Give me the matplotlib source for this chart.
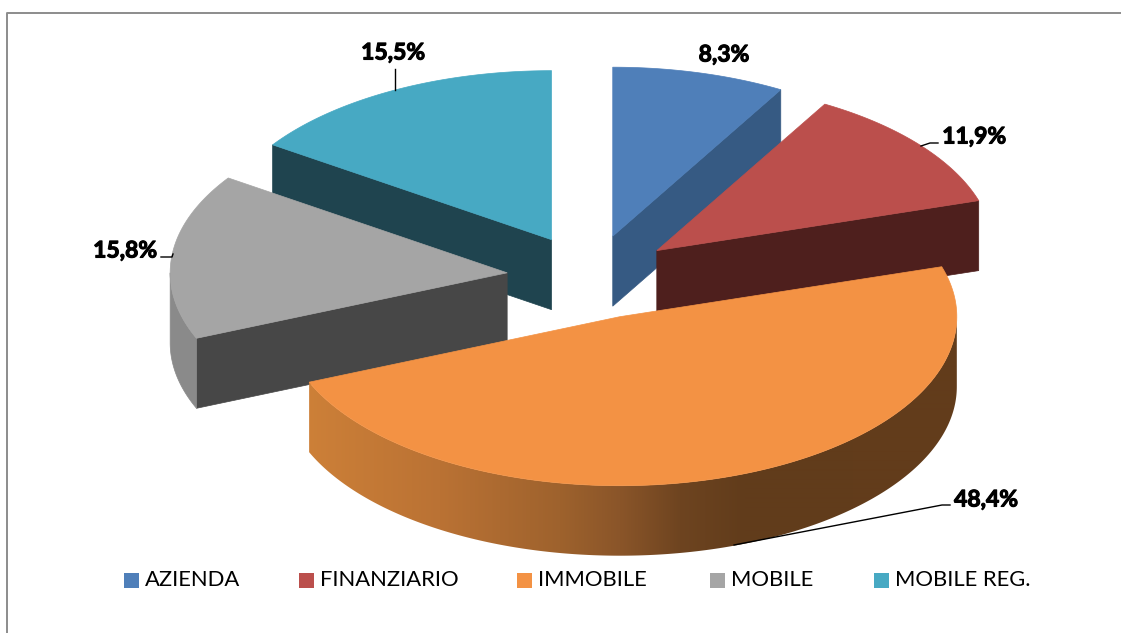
import numpy as np
import matplotlib
matplotlib.use("Agg")
import matplotlib.pyplot as plt
import matplotlib.patheffects as pe
from matplotlib.patches import Polygon, Rectangle

categories = ["AZIENDA", "FINANZIARIO", "IMMOBILE", "MOBILE", "MOBILE REG."]
values = [8.3, 11.9, 48.4, 15.8, 15.5]
top_colors = ["#4f7fb9", "#bb4f4c", "#f39244", "#a5a5a5", "#47a9c3"]
face_colors = ["#365a83", "#4e1f1d", "#633c1b", "#474747", "#1f444f"]
side_colors = ["#365a83", "#4e1f1d", "#633c1b", "#8a8a8a", "#1f444f"]

# pie geometry in pixels
cx, cy = 591, 277
a, b = 337, 169
depth = 70
explode = 0.25


def pt(c, t, r=1.0):
    return c[0] + a * r * np.sin(t), c[1] - b * r * np.cos(t)


fig = plt.figure(figsize=(11.21, 6.33), dpi=100)
ax = fig.add_axes([0, 0, 1, 1])

# outer frame, cut off by the picture on the right and bottom
ax.plot([6.5, 6.5, 1125], [640, 12.5, 12.5], color="#8c8c8c", lw=1.4)

fracs = np.array(values) / sum(values)
ends = np.cumsum(fracs) * 2 * np.pi
starts = ends - fracs * 2 * np.pi
mids = (starts + ends) / 2
centers = [pt((cx, cy), m, explode) for m in mids]

# brown shading of the big slice wall, left to right
shade_x = [307, 440, 560, 620, 680, 745, 960]
shade_rgb = np.array([[205, 128, 56], [186, 114, 52], [158, 98, 45],
                      [138, 85, 41], [110, 68, 32], [97, 60, 27], [99, 60, 27]]) / 255


def draw_slice(i, z):
    c = centers[i]
    t0, t1 = starts[i], ends[i]
    ts = np.linspace(t0, t1, 200)
    if i != 2:
        t_face = t1 if i in (0, 1) else t0
        p = pt(c, t_face)
        ax.add_patch(Polygon([c, p, (p[0], p[1] + depth), (c[0], c[1] + depth)],
                             closed=True, fc=face_colors[i], ec=face_colors[i], lw=0.5, zorder=z))
    # outer wall for the front half of the ellipse
    lo, hi = max(t0, np.pi / 2), min(t1, 3 * np.pi / 2)
    if lo < hi:
        tw = np.linspace(lo, hi, 260)
        xs, ys = pt(c, tw)
        wall = list(zip(xs, ys)) + list(zip(xs[::-1], ys[::-1] + depth))
        if i == 2:
            gx = np.arange(300, 965)
            grad = np.stack([np.interp(gx, shade_x, shade_rgb[:, k]) for k in range(3)], axis=-1)[None, :, :]
            poly = Polygon(wall, closed=True, fc="none", ec="none", zorder=z)
            ax.add_patch(poly)
            im = ax.imshow(grad, extent=(300, 965, 600, 300), aspect="auto", zorder=z,
                           interpolation="bilinear")
            im.set_clip_path(poly)
        else:
            ax.add_patch(Polygon(wall, closed=True, fc=side_colors[i], ec=side_colors[i], lw=0.5, zorder=z))
    xs, ys = pt(c, ts)
    verts = [c] + list(zip(xs, ys))
    ax.add_patch(Polygon(verts, closed=True, fc=top_colors[i], ec=top_colors[i], lw=0.5, zorder=z + 0.5))


for z, i in enumerate([4, 0, 1, 3, 2]):
    draw_slice(i, z + 1)

# value labels with leader lines
label_pos = [(724, 55), (974, 137), (986, 500), (125, 251), (393, 53)]
leaders = [None,
           [(921, 146), (930, 143), (938, 143)],
           [(734, 545), (942, 505), (950, 505)],
           [(161, 257), (172, 257), (173, 254)],
           [(395, 90), (395, 69)]]
for v, pos, lead in zip(values, label_pos, leaders):
    ax.text(pos[0], pos[1], f"{v:.1f}".replace(".", ",") + "%", family="Lato", weight="bold",
            fontsize=16.5, ha="center", va="center", color="black", zorder=10,
            path_effects=[pe.withStroke(linewidth=0.8, foreground="black")])
    if lead:
        ax.plot(*zip(*lead), color="black", lw=1.0, zorder=10)

# legend
legend_x = [124, 299, 517, 710, 874]
for name, col, x in zip(categories, top_colors, legend_x):
    ax.add_patch(Rectangle((x, 573), 14.5, 14.5, fc=col, ec="none", zorder=10))
    ax.text(x + 21, 580, name, family="Lato", fontsize=15.8, ha="left", va="center",
            color="black", zorder=10)

ax.set_xlim(0, 1121)
ax.set_ylim(633, 0)
ax.axis("off")

plt.savefig("out.png", dpi=100)
